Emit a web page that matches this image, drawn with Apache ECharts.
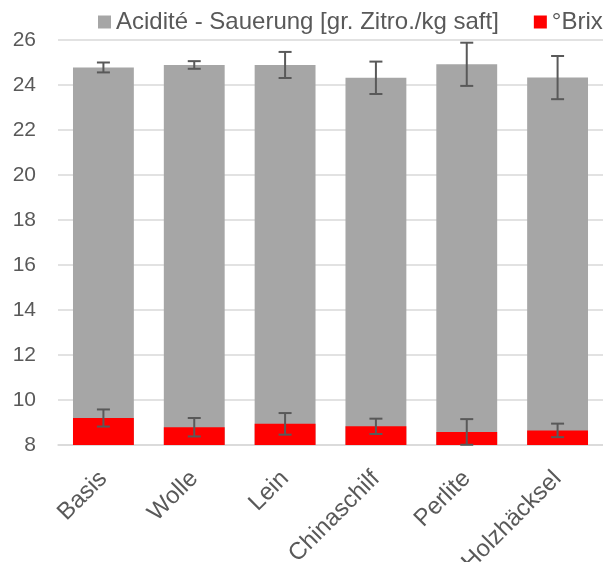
<!DOCTYPE html>
<html>
<head>
<meta charset="utf-8">
<script src="https://cdn.jsdelivr.net/npm/echarts@6/dist/echarts.min.js"></script>
<style>
html,body{margin:0;padding:0;background:#fff;}
#chart{width:603px;height:562px;}
</style>
</head>
<body>
<div id="chart"></div>
<script>
const categories = ['Basis', 'Wolle', 'Lein', 'Chinaschilf', 'Perlite', 'Holzhäcksel'];
const acidityName = 'Acidité - Sauerung [gr. Zitro./kg saft]';
const brixName = '°Brix';
const acidity = [24.78, 24.89, 24.89, 24.32, 24.92, 24.33];
const acidityErr = [0.22, 0.17, 0.58, 0.72, 0.96, 0.96];
const brix = [9.20, 8.79, 8.94, 8.83, 8.58, 8.65];
const brixErr = [0.38, 0.41, 0.48, 0.34, 0.57, 0.30];
const yMin = 8, yMax = 26, yStep = 2;

const FONT = '"Liberation Sans", Arial, sans-serif';
const TXT = '#595959';

function errRender(params, api) {
  const x = api.value(0), v = api.value(1), e = api.value(2);
  const top = api.coord([x, v + e]);
  const bot = api.coord([x, v - e]);
  const hw = 6.5;
  const st = { stroke: '#595959', lineWidth: 2 };
  return {
    type: 'group',
    children: [
      { type: 'line', shape: { x1: top[0], y1: top[1], x2: bot[0], y2: bot[1] }, style: st },
      { type: 'line', shape: { x1: top[0] - hw, y1: top[1], x2: top[0] + hw, y2: top[1] }, style: st },
      { type: 'line', shape: { x1: bot[0] - hw, y1: bot[1], x2: bot[0] + hw, y2: bot[1] }, style: st }
    ]
  };
}

const chart = echarts.init(document.getElementById('chart'), null, { renderer: 'canvas' });
chart.setOption({
  animation: false,
  backgroundColor: '#fff',
  textStyle: { fontFamily: FONT },
  legend: {
    data: [acidityName, brixName],
    top: 10,
    left: 98,
    width: 520,
    padding: 0,
    icon: 'rect',
    itemWidth: 13,
    itemHeight: 13,
    itemGap: 35,
    textStyle: { fontSize: 24, color: TXT, fontFamily: FONT }
  },
  grid: { left: 58, right: 0, top: 40, bottom: 117, containLabel: false, outerBoundsMode: 'none' },
  xAxis: {
    type: 'category',
    data: categories,
    axisLine: { show: true, lineStyle: { color: '#d9d9d9', width: 1.5 } },
    axisTick: { show: false },
    axisLabel: { rotate: 45, fontSize: 24, color: TXT, fontFamily: FONT, margin: 30, interval: 0 }
  },
  yAxis: {
    type: 'value',
    min: yMin,
    max: yMax,
    interval: yStep,
    axisLine: { show: false },
    axisTick: { show: false },
    splitLine: { lineStyle: { color: '#d9d9d9', width: 1.5 } },
    axisLabel: { fontSize: 21, color: TXT, fontFamily: FONT, margin: 22 }
  },
  series: [
    {
      name: acidityName,
      type: 'bar',
      data: acidity,
      barWidth: '67%',
      barGap: '-100%',
      itemStyle: { color: '#a6a6a6' },
      z: 2
    },
    {
      name: brixName,
      type: 'bar',
      data: brix,
      barWidth: '67%',
      barGap: '-100%',
      itemStyle: { color: '#ff0000' },
      z: 3
    },
    {
      type: 'custom',
      renderItem: errRender,
      data: categories.map((c, i) => [i, acidity[i], acidityErr[i]]),
      encode: { x: 0, y: 1 },
      z: 5,
      silent: true
    },
    {
      type: 'custom',
      renderItem: errRender,
      data: categories.map((c, i) => [i, brix[i], brixErr[i]]),
      encode: { x: 0, y: 1 },
      z: 5,
      silent: true
    }
  ]
});
</script>
</body>
</html>
